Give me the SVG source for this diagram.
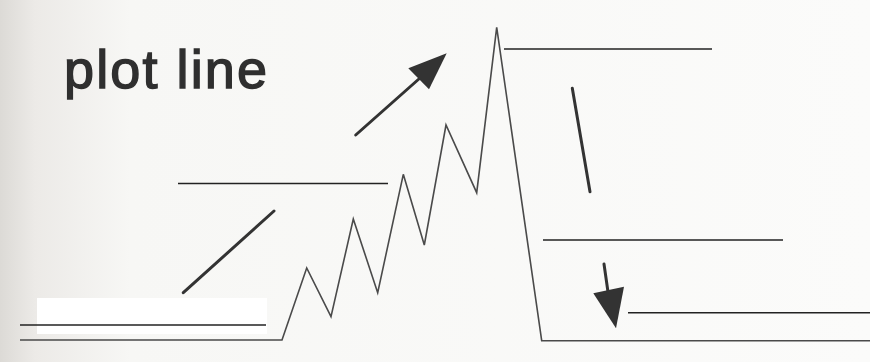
<svg xmlns="http://www.w3.org/2000/svg" width="870" height="362" viewBox="0 0 870 362">
<defs>
<linearGradient id="bg" x1="0" y1="0" x2="1" y2="0">
<stop offset="0" stop-color="#dcdad6"/>
<stop offset="0.04" stop-color="#eceae7"/>
<stop offset="0.15" stop-color="#f7f7f5"/>
<stop offset="1" stop-color="#fbfbfa"/>
</linearGradient>
<style>
.blank{stroke:#222;stroke-width:1.5;fill:none}
.plot{stroke:#4a4a4a;stroke-width:1.6;fill:none;stroke-linejoin:miter}
.arrow{stroke:#333;stroke-width:3;fill:none;stroke-linecap:round}
.head{fill:#333}
.title{font-family:"Liberation Sans",Arial,sans-serif;font-size:54px;fill:#2f2f2f;stroke:#2f2f2f;stroke-width:1.4}
</style>
</defs>
<rect width="870" height="362" fill="url(#bg)"/>
<rect x="37" y="298" width="230" height="36" fill="#ffffff"/>
<text class="title" x="64" y="88" textLength="203" lengthAdjust="spacing">plot line</text>
<g id="plot-line">
<polyline class="plot" points="20,340 282,340 306.7,268 331,316.7 353.3,219 377.7,292.7 403.3,174.3 424.3,245 446,125 476.7,192.7 496.7,27.3 541.7,340.7 870,340.7"/>
</g>
<g id="blanks">
<line class="blank" x1="20" y1="325" x2="266" y2="325"/>
<line class="blank" x1="178" y1="183.5" x2="388" y2="183.5"/>
<line class="blank" x1="504" y1="49" x2="712" y2="49"/>
<line class="blank" x1="543" y1="240" x2="783" y2="240"/>
<line class="blank" x1="628" y1="312.7" x2="870" y2="312.7"/>
</g>
<g id="connectors">
<line class="arrow" x1="183.3" y1="292.7" x2="274" y2="211"/>
<line class="arrow" x1="355.7" y1="135" x2="420" y2="78"/>
<polygon class="head" points="446.7,53.3 408.3,68.3 429,89.3"/>
<line class="arrow" x1="572.3" y1="88.3" x2="590" y2="191.7"/>
<line class="arrow" x1="604" y1="264" x2="608" y2="292"/>
<polygon class="head" points="616,328.3 593.3,293.3 624,286.7"/>
</g>
</svg>
